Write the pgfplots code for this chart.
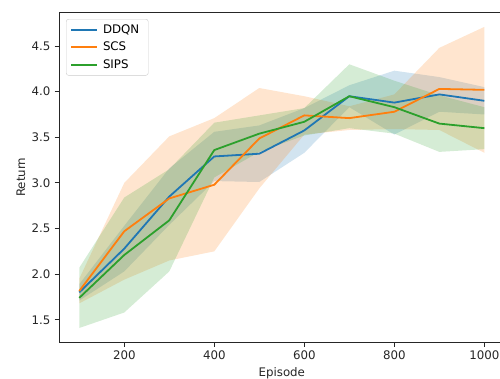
\documentclass[border=0pt]{standalone}
\usepackage{pgfplots}
\pgfplotsset{compat=1.18}
\usepackage{fontspec}
\setmainfont{DejaVu Sans}
\definecolor{tabblue}{HTML}{1F77B4}
\definecolor{taborange}{HTML}{FF7F0E}
\definecolor{tabgreen}{HTML}{2CA02C}
\pgfplotsset{legend image code/.code={\draw[#1, line width=1.8pt] (0pt,0pt) -- (26pt,0pt);}}
\begin{document}
\fontsize{11.8pt}{14pt}\selectfont
\begin{tikzpicture}
\begin{axis}[
  name=ax,
  scale only axis,
  width=445.6pt, height=330.5pt,
  xmin=55, xmax=1045, ymin=1.251, ymax=4.873,
  axis line style={line width=1pt, black!85},
  xtick={200,400,600,800,1000},
  ytick={1.5,2.0,2.5,3.0,3.5,4.0,4.5},
  xticklabel style={/pgf/number format/.cd, 1000 sep={}},
  yticklabel style={/pgf/number format/.cd, fixed, fixed zerofill, precision=1},
  /pgf/number format/assume math mode=true,
  tick align=outside, tick pos=left,
  major tick length=4.4pt,
  tick style={line width=1pt, black!85},
  ticklabel style={font=\fontsize{11.8pt}{14pt}\selectfont, text=black!85},
  every axis x label/.style={at={(axis description cs:0.5,0)}, yshift=-34.1pt, anchor=base},
  every axis y label/.style={at={(axis description cs:0,0.5)}, xshift=-38pt, rotate=90, anchor=center},
  label style={font=\fontsize{11.8pt}{14pt}\selectfont, text=black!85},
  xlabel={Episode}, ylabel={Return},
  legend cell align=left,
  legend style={at={(0,1)}, anchor=north west, xshift=7pt, yshift=-7pt,
    draw=black!20, rounded corners=2.5pt, fill=white, fill opacity=0.8, text opacity=1, draw opacity=1,
    font=\fontsize{11.8pt}{14pt}\selectfont, row sep=2.8pt, inner xsep=4pt, inner ysep=3.5pt,
    nodes={inner xsep=5pt}},
]
% bands
\addplot[forget plot, draw=none, fill=tabblue, fill opacity=0.2] coordinates {
 (100,1.89) (200,2.53) (300,3.16) (400,3.56) (500,3.63) (600,3.82) (700,4.07) (800,4.23) (900,4.16) (1000,4.05)
 (1000,3.75) (900,3.78) (800,3.53) (700,3.83) (600,3.33) (500,3.01) (400,3.02) (300,2.54) (200,2.03) (100,1.71)} -- cycle;
\addplot[forget plot, draw=none, fill=taborange, fill opacity=0.2] coordinates {
 (100,1.95) (200,3.00) (300,3.51) (400,3.71) (500,4.04) (600,3.95) (700,3.84) (800,3.97) (900,4.48) (1000,4.71)
 (1000,3.33) (900,3.58) (800,3.59) (700,3.58) (600,3.53) (500,2.94) (400,2.25) (300,2.15) (200,1.94) (100,1.68)} -- cycle;
\addplot[forget plot, draw=none, fill=tabgreen, fill opacity=0.2] coordinates {
 (100,2.07) (200,2.84) (300,3.15) (400,3.66) (500,3.74) (600,3.82) (700,4.30) (800,4.12) (900,3.96) (1000,3.83)
 (1000,3.37) (900,3.34) (800,3.54) (700,3.60) (600,3.52) (500,3.34) (400,3.06) (300,2.03) (200,1.58) (100,1.41)} -- cycle;
% means
\addplot[tabblue, line width=1.8pt] coordinates {
 (100,1.80) (200,2.28) (300,2.85) (400,3.29) (500,3.32) (600,3.575) (700,3.95) (800,3.88) (900,3.97) (1000,3.90)};
\addlegendentry{DDQN}
\addplot[taborange, line width=1.8pt] coordinates {
 (100,1.815) (200,2.47) (300,2.83) (400,2.98) (500,3.487) (600,3.74) (700,3.71) (800,3.78) (900,4.03) (1000,4.02)};
\addlegendentry{SCS}
\addplot[tabgreen, line width=1.8pt] coordinates {
 (100,1.74) (200,2.21) (300,2.59) (400,3.36) (500,3.54) (600,3.67) (700,3.95) (800,3.83) (900,3.65) (1000,3.60)};
\addlegendentry{SIPS}
\end{axis}
\pgfresetboundingbox
\path[use as bounding box] ([shift={(-59pt,-35.5pt)}]ax.south west) rectangle ([shift={(-4.6pt,12pt)}]ax.north east);
\end{tikzpicture}
\end{document}
